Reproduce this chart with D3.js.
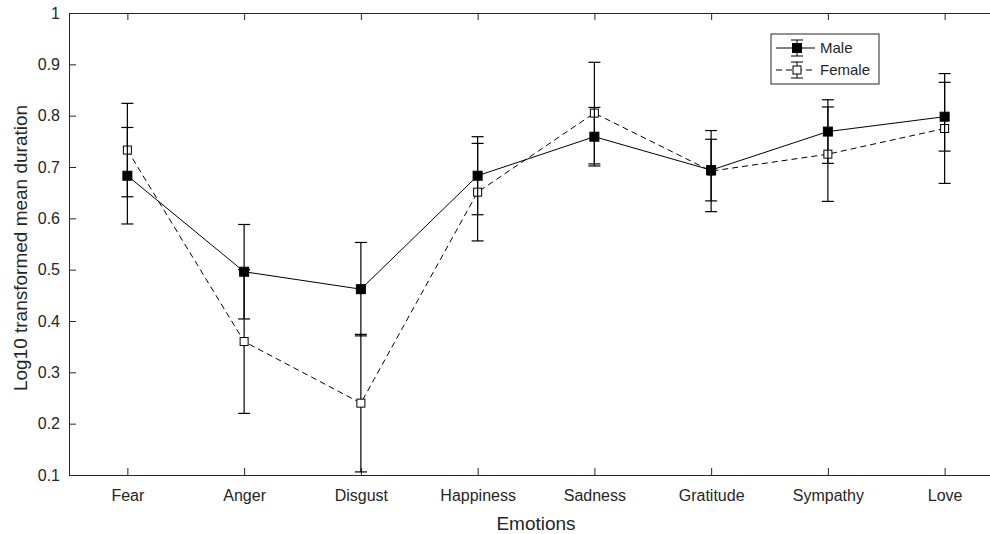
<!DOCTYPE html>
<html>
<head>
<meta charset="utf-8">
<script src="https://cdn.jsdelivr.net/npm/d3@7"></script>
<style>
  body { margin: 0; background: #fff; }
  svg { display: block; font-family: "Liberation Sans", Arial, sans-serif; }
</style>
</head>
<body>
<div id="chart"></div>
<script>
// DATA
const emotions = ["Fear", "Anger", "Disgust", "Happiness", "Sadness", "Gratitude", "Sympathy", "Love"];
const maleMean = [0.683, 0.496, 0.462, 0.683, 0.759, 0.694, 0.769, 0.798];
const maleErr = [0.094, 0.092, 0.091, 0.076, 0.057, 0.060, 0.062, 0.067];
const femaleMean = [0.733, 0.360, 0.240, 0.651, 0.805, 0.692, 0.725, 0.775];
const femaleErr = [0.091, 0.140, 0.134, 0.095, 0.099, 0.079, 0.092, 0.107];
const yTicks = [0.1, 0.2, 0.3, 0.4, 0.5, 0.6, 0.7, 0.8, 0.9, 1];

const WIDTH = 990;
const HEIGHT = 534;
const AXIS_COLOR = "#262626";

const svg = d3
  .select("#chart")
  .append("svg")
  .attr("width", WIDTH)
  .attr("height", HEIGHT)
  .style("background", "#fff");

// SCALES (plot box runs past the right edge, as in the source image)
const x = d3.scalePoint().domain(emotions).range([69, 1003]).padding(0.5);
const y = d3.scaleLinear().domain([0.1, 1]).range([475, 13]);

// AXES
const gLeft = svg
  .append("g")
  .attr("transform", `translate(${x.range()[0]},0)`)
  .call(
    d3.axisLeft(y)
      .tickValues(yTicks)
      .tickSizeInner(-7)
      .tickSizeOuter(0)
      .tickPadding(9)
      .tickFormat(d3.format("~g"))
  );

const gBottom = svg
  .append("g")
  .attr("transform", `translate(0,${y.range()[0]})`)
  .call(d3.axisBottom(x).tickSizeInner(-7).tickSizeOuter(0).tickPadding(15));

const gTop = svg
  .append("g")
  .attr("transform", `translate(0,${y.range()[1]})`)
  .call(d3.axisTop(x).tickSizeInner(-7).tickSizeOuter(0).tickFormat(""));

[gLeft, gBottom, gTop].forEach((g) => {
  g.select(".domain").attr("stroke", AXIS_COLOR).attr("stroke-width", 1);
  g.selectAll(".tick line").attr("stroke", AXIS_COLOR).attr("stroke-width", 1);
  g.selectAll(".tick text")
    .attr("fill", AXIS_COLOR)
    .style("font-size", "16px")
    .style("font-family", "'Liberation Sans', Arial, sans-serif");
});

// AXIS TITLES
svg
  .append("text")
  .attr("x", (x.range()[0] + x.range()[1]) / 2)
  .attr("y", 530)
  .attr("text-anchor", "middle")
  .style("font-size", "19px")
  .attr("fill", AXIS_COLOR)
  .text("Emotions");

svg
  .append("text")
  .attr("transform", `translate(27,248) rotate(-90)`)
  .attr("text-anchor", "middle")
  .style("font-size", "19px")
  .attr("fill", AXIS_COLOR)
  .text("Log10 transformed mean duration");

// SERIES
const CAP = 6;

function drawSeries(means, errs, opts) {
  const g = svg.append("g");
  const pts = emotions.map((e, i) => ({ e, m: means[i], s: errs[i] }));

  g.append("path")
    .datum(pts)
    .attr("fill", "none")
    .attr("stroke", "#000")
    .attr("stroke-width", 1)
    .attr("stroke-dasharray", opts.dash)
    .attr("d", d3.line().x((d) => x(d.e)).y((d) => y(d.m)));

  const bars = g.selectAll("g.err").data(pts).join("g").attr("class", "err");

  bars
    .append("line")
    .attr("x1", (d) => x(d.e))
    .attr("x2", (d) => x(d.e))
    .attr("y1", (d) => y(d.m - d.s))
    .attr("y2", (d) => y(d.m + d.s));

  bars
    .append("line")
    .attr("x1", (d) => x(d.e) - CAP)
    .attr("x2", (d) => x(d.e) + CAP)
    .attr("y1", (d) => y(d.m + d.s))
    .attr("y2", (d) => y(d.m + d.s));

  bars
    .append("line")
    .attr("x1", (d) => x(d.e) - CAP)
    .attr("x2", (d) => x(d.e) + CAP)
    .attr("y1", (d) => y(d.m - d.s))
    .attr("y2", (d) => y(d.m - d.s));

  bars.selectAll("line").attr("stroke", "#000").attr("stroke-width", 1.2);

  bars
    .append("rect")
    .attr("x", (d) => x(d.e) - opts.size / 2)
    .attr("y", (d) => y(d.m) - opts.size / 2)
    .attr("width", opts.size)
    .attr("height", opts.size)
    .attr("fill", opts.fill)
    .attr("stroke", "#000")
    .attr("stroke-width", 1);
}

drawSeries(femaleMean, femaleErr, { dash: "6,4", fill: "#fff", size: 8 });
drawSeries(maleMean, maleErr, { dash: null, fill: "#000", size: 9 });

// LEGEND
const legend = svg.append("g").attr("transform", "translate(771,34)");

legend
  .append("rect")
  .attr("width", 108)
  .attr("height", 50)
  .attr("fill", "#fff")
  .attr("stroke", AXIS_COLOR)
  .attr("stroke-width", 1);

const legendItems = [
  { label: "Male", dash: null, fill: "#000", size: 9, cy: 14 },
  { label: "Female", dash: "6,4", fill: "#fff", size: 8, cy: 36 },
];

legendItems.forEach((d) => {
  const row = legend.append("g");
  row.append("line")
    .attr("x1", 5).attr("x2", 44)
    .attr("y1", d.cy).attr("y2", d.cy)
    .attr("stroke", "#000")
    .attr("stroke-dasharray", d.dash);
  row.append("line")
    .attr("x1", 26).attr("x2", 26)
    .attr("y1", d.cy - 8).attr("y2", d.cy + 8)
    .attr("stroke", "#000");
  [d.cy - 8, d.cy + 8].forEach((cy) =>
    row.append("line")
      .attr("x1", 20).attr("x2", 32)
      .attr("y1", cy).attr("y2", cy)
      .attr("stroke", "#000")
  );
  row.append("rect")
    .attr("x", 26 - d.size / 2)
    .attr("y", d.cy - d.size / 2)
    .attr("width", d.size)
    .attr("height", d.size)
    .attr("fill", d.fill)
    .attr("stroke", "#000");
  row.append("text")
    .attr("x", 49)
    .attr("y", d.cy + 5)
    .style("font-size", "15px")
    .attr("fill", AXIS_COLOR)
    .text(d.label);
});
</script>
</body>
</html>
